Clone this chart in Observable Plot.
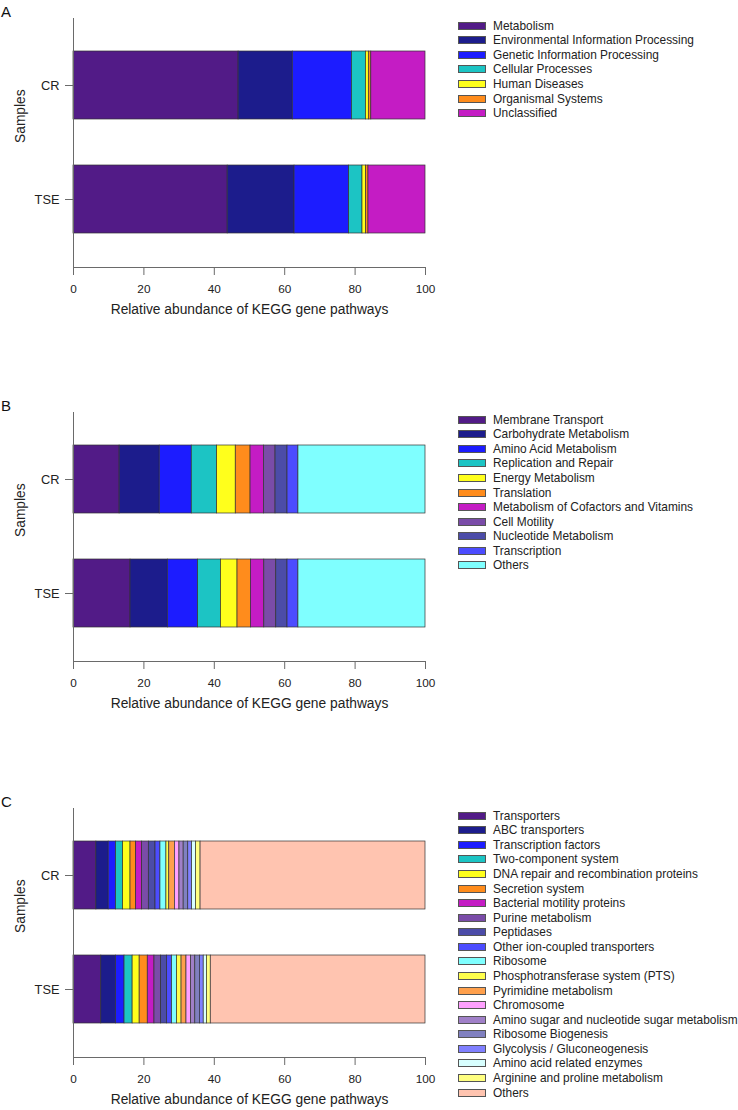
<!DOCTYPE html>
<html>
<head>
<meta charset="utf-8">
<script src="https://cdn.jsdelivr.net/npm/d3@7"></script>
<script src="https://cdn.jsdelivr.net/npm/@observablehq/plot@0.6"></script>
<style>
  html, body { margin: 0; padding: 0; background: #fff; }
  body { width: 738px; height: 1110px; position: relative; font-family: "Liberation Sans", Arial, sans-serif; color: #222; overflow: hidden; }
  .panel { position: absolute; left: 0; }
  .letter { position: absolute; left: 1px; font-size: 15px; color: #111; }
  .legend { position: absolute; left: 458px; }
  .row { position: absolute; left: 0; height: 14px; display: flex; align-items: center; white-space: nowrap; font-size: 11.9px; color: #222; }
  .sw { width: 26px; height: 6px; border: 1px solid #555; margin-right: 7px; }
</style>
</head>
<body>
<script>
const samples = ["CR", "TSE"];

// Panel A: KEGG level 1
const catsA = ["Metabolism", "Environmental Information Processing", "Genetic Information Processing", "Cellular Processes", "Human Diseases", "Organismal Systems", "Unclassified"];
const colorsA = ["#521b87", "#1c1c8c", "#1c1cff", "#1cc4c4", "#ffff1c", "#ff8c1c", "#c41cc4"];
const valuesA_CR = [46.9, 15.4, 16.8, 4.0, 0.8, 0.7, 15.4];
const valuesA_TSE = [43.8, 19.0, 15.5, 3.8, 1.0, 0.7, 16.2];

// Panel B: KEGG level 2
const catsB = ["Membrane Transport", "Carbohydrate Metabolism", "Amino Acid Metabolism", "Replication and Repair", "Energy Metabolism", "Translation", "Metabolism of Cofactors and Vitamins", "Cell Motility", "Nucleotide Metabolism", "Transcription", "Others"];
const colorsB = ["#521b87", "#1c1c8c", "#1c1cff", "#1cc4c4", "#ffff1c", "#ff8c1c", "#c41cc4", "#7a4ca8", "#4c4ca8", "#4c4cff", "#7fffff"];
const valuesB_CR = [13.1, 11.4, 9.1, 7.2, 5.3, 4.2, 3.8, 3.3, 3.4, 3.1, 36.1];
const valuesB_TSE = [16.2, 10.6, 8.6, 6.5, 4.7, 3.8, 3.8, 3.4, 3.2, 3.1, 36.1];

// Panel C: KEGG level 3
const catsC = ["Transporters", "ABC transporters", "Transcription factors", "Two-component system", "DNA repair and recombination proteins", "Secretion system", "Bacterial motility proteins", "Purine metabolism", "Peptidases", "Other ion-coupled transporters", "Ribosome", "Phosphotransferase system (PTS)", "Pyrimidine metabolism", "Chromosome", "Amino sugar and nucleotide sugar metabolism", "Ribosome Biogenesis", "Glycolysis / Gluconeogenesis", "Amino acid related enzymes", "Arginine and proline metabolism", "Others"];
const colorsC = ["#521b87", "#1c1c8c", "#1c1cff", "#1cc4c4", "#ffff1c", "#ff8c1c", "#c41cc4", "#7a4ca8", "#4c4ca8", "#4c4cff", "#7fffff", "#ffff4c", "#ffa04c", "#ffa0ff", "#a080c8", "#8080c0", "#8080ff", "#d8ffff", "#ffff80", "#ffc4b0"];
const valuesC_CR = [6.5, 3.5, 2.1, 2.0, 2.1, 1.6, 1.7, 1.9, 1.9, 1.4, 1.7, 0.8, 1.6, 1.3, 1.2, 1.3, 1.1, 1.1, 1.3, 63.9];
const valuesC_TSE = [7.9, 4.2, 2.4, 2.3, 2.0, 2.3, 1.9, 1.9, 1.7, 1.4, 1.4, 1.3, 1.4, 1.3, 1.2, 1.3, 1.1, 0.9, 1.1, 61.0];

const xTicks = [0, 20, 40, 60, 80, 100];
const xTitle = "Relative abundance of KEGG gene pathways";
const yTitle = "Samples";

const panels = [
  {letter: "A", top: 0, cats: catsA, colors: colorsA, vals: [valuesA_CR, valuesA_TSE]},
  {letter: "B", top: 394, cats: catsB, colors: colorsB, vals: [valuesB_CR, valuesB_TSE]},
  {letter: "C", top: 790, cats: catsC, colors: colorsC, vals: [valuesC_CR, valuesC_TSE]}
];

const axisColor = "#6a6a6a";

for (const p of panels) {
  const rows = [];
  samples.forEach((s, si) => {
    p.cats.forEach((c, ci) => rows.push({sample: s, category: c, value: p.vals[si][ci]}));
  });

  const chart = Plot.plot({
    width: 440,
    height: 325,
    marginLeft: 73,
    marginRight: 15,
    marginTop: 18,
    marginBottom: 58,
    style: {fontFamily: '"Liberation Sans", Arial, sans-serif', fontSize: "11.5px", color: "#222", background: "transparent"},
    x: {domain: [0, 100], ticks: xTicks, label: null},
    y: {domain: samples, paddingInner: 0.4, paddingOuter: 0.29, label: null},
    color: {domain: p.cats, range: p.colors},
    marks: [
      Plot.barX(rows, {x: "value", y: "sample", fill: "category", stroke: "#333", strokeWidth: 0.7, order: null}),
      Plot.ruleX([0], {stroke: axisColor, strokeWidth: 1}),
      Plot.frame({anchor: "bottom", stroke: axisColor, strokeWidth: 1}),
      Plot.axisX({ticks: xTicks, tickSize: 8, tickPadding: 9, stroke: axisColor, fill: "#222", label: null, fontSize: 11.8}),
      Plot.axisY({tickSize: 8, tickPadding: 6, stroke: axisColor, fill: "#222", label: null, fontSize: 12.8}),
      Plot.text([xTitle], {frameAnchor: "bottom", dy: 46, text: d => d, fontSize: 13.8, fill: "#222"}),
      Plot.text([yTitle], {frameAnchor: "left", dx: -53, rotate: -90, text: d => d, fontSize: 13.8, fill: "#222"})
    ]
  });

  const wrap = document.createElement("div");
  wrap.className = "panel";
  wrap.style.top = p.top + "px";
  wrap.appendChild(chart);
  document.body.appendChild(wrap);

  const letter = document.createElement("div");
  letter.className = "letter";
  letter.style.top = (p.top + 3) + "px";
  letter.textContent = p.letter;
  document.body.appendChild(letter);

  const legend = document.createElement("div");
  legend.className = "legend";
  legend.style.top = (p.top + 18.7) + "px";
  p.cats.forEach((c, i) => {
    const r = document.createElement("div");
    r.className = "row";
    r.style.top = (i * 14.57) + "px";
    const sw = document.createElement("div");
    sw.className = "sw";
    sw.style.background = p.colors[i];
    const t = document.createElement("span");
    t.textContent = c;
    r.appendChild(sw);
    r.appendChild(t);
    legend.appendChild(r);
  });
  document.body.appendChild(legend);
}
</script>
</body>
</html>
